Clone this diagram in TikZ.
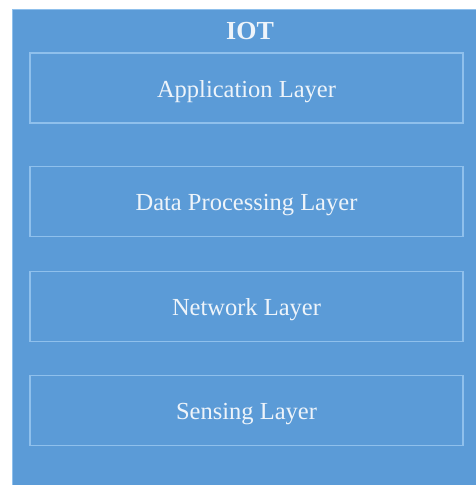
\documentclass[tikz,border=0pt]{standalone}
\usepackage{fontspec}
\setmainfont{Liberation Serif}
\definecolor{bluefill}{HTML}{5B9BD7}
\definecolor{boxline}{HTML}{8FC0EC}
\definecolor{txt}{HTML}{EEF4FA}
\begin{document}
\begin{tikzpicture}[x=1pt,y=1pt,
  layerbox/.style={draw=boxline, line width=1.2pt, minimum width=433pt, minimum height=70pt, inner sep=0pt, text height=18.5pt, text depth=0pt, text=txt, font=\fontsize{24.5}{26}\selectfont},
  titletext/.style={text=txt, font=\bfseries\fontsize{26}{28}\selectfont, inner sep=0pt}]
\useasboundingbox (0,0) rectangle (475,485);
\fill[white] (0,0) rectangle (475,485);
\node[draw=boxline, fill=bluefill, line width=1pt, minimum width=464pt, minimum height=476pt, inner sep=0pt, anchor=south west] (outer) at (12,-1) {};
\node[titletext] (iot) at (250,454) {IOT};
\node[layerbox] (app) at (246.5,397) {Application Layer};
\node[layerbox] (dp) at (246.5,283.5) {Data Processing Layer};
\node[layerbox] (net) at (246.5,178.5) {Network Layer};
\node[layerbox] (sens) at (246.5,74.5) {Sensing Layer};
\end{tikzpicture}
\end{document}
